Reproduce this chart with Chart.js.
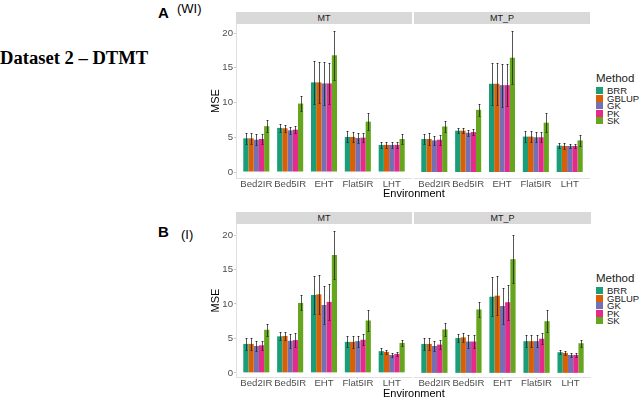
<!DOCTYPE html>
<html>
<head>
<meta charset="utf-8">
<script src="https://cdn.jsdelivr.net/npm/chart.js@4.4.0/dist/chart.umd.min.js"></script>
<style>
  body { margin: 0; background: #fff; font-family: "Liberation Sans", Arial, sans-serif; }
  #wrap { position: relative; width: 644px; height: 402px; overflow: hidden; }
  canvas, .txt, .strip, .legend { position: absolute; }
  .strip { background: #d9d9d9; color: #1a1a1a; font-size: 9px; text-align: center; line-height: 12px; height: 12px; }
  .txt { white-space: nowrap; }
  .legend { font-size: 9.5px; color: #1a1a1a; }
  .legend .ttl { font-size: 11.5px; margin-bottom: 3px; }
  .legend .row { height: 7.6px; line-height: 7.6px; }
  .legend .sw { display: inline-block; width: 7px; height: 7px; margin-right: 4px; vertical-align: top; }
</style>
</head>
<body>
<div id="wrap">
  <div class="txt" style="left:0;top:47px;font-family:'Liberation Serif',serif;font-weight:bold;font-size:18.6px;">Dataset 2 – DTMT</div>
  <div class="txt" style="left:158px;top:4px;font-weight:bold;font-size:15px;">A</div>
  <div class="txt" style="left:177px;top:1px;font-size:13px;">(WI)</div>
  <div class="txt" style="left:158px;top:223px;font-weight:bold;font-size:15px;">B</div>
  <div class="txt" style="left:181px;top:227px;font-size:13px;">(I)</div>

  <div class="strip" style="left:236px;top:12px;width:176px;">MT</div>
  <div class="strip" style="left:414px;top:12px;width:176px;">MT_P</div>
  <div class="strip" style="left:236px;top:212px;width:176px;">MT</div>
  <div class="strip" style="left:414px;top:212px;width:177px;">MT_P</div>

  <canvas id="aMT" width="207" height="170" style="left:205px;top:24px;"></canvas>
  <canvas id="aMTP" width="176" height="170" style="left:414px;top:24px;"></canvas>
  <canvas id="bMT" width="207" height="169" style="left:205px;top:224px;"></canvas>
  <canvas id="bMTP" width="177" height="169" style="left:414px;top:224px;"></canvas>

  <div class="txt" style="left:383px;top:187px;font-size:11px;">Environment</div>
  <div class="txt" style="left:383px;top:387px;font-size:11px;">Environment</div>

  <div class="legend" id="legA" style="left:596px;top:72px;"></div>
  <div class="legend" id="legB" style="left:596px;top:272px;"></div>
</div>
<script>
var environments = ["Bed2IR", "Bed5IR", "EHT", "Flat5IR", "LHT"];
var methods = ["BRR", "GBLUP", "GK", "PK", "SK"];
var methodColors = ["#1B9E77", "#D95F02", "#7570B3", "#E7298A", "#66A61E"];
var yTicks = [0, 5, 10, 15, 20];

// one row per method (BRR, GBLUP, GK, PK, SK), columns follow environments
// A (WI), facet MT
var wiMT = [
    [4.85, 6.35, 12.9, 5.05, 3.9],
    [4.85, 6.3, 12.9, 5.05, 3.9],
    [4.65, 6.0, 12.75, 4.9, 3.9],
    [4.75, 6.1, 12.75, 4.95, 3.9],
    [6.6, 9.85, 16.8, 7.25, 4.75]
];
var wiMTErr = [
    [0.8, 0.55, 3.1, 0.8, 0.4],
    [0.8, 0.5, 3.0, 0.75, 0.4],
    [0.75, 0.5, 3.1, 0.7, 0.4],
    [0.7, 0.55, 3.0, 0.7, 0.4],
    [0.9, 1.05, 3.5, 1.25, 0.75]
];
// A (WI), facet MT_P
var wiMTP = [
    [4.75, 5.95, 12.7, 5.1, 3.8],
    [4.75, 5.95, 12.7, 5.1, 3.75],
    [4.55, 5.65, 12.5, 5.0, 3.75],
    [4.65, 5.75, 12.5, 5.0, 3.75],
    [6.55, 8.95, 16.45, 7.1, 4.55]
];
var wiMTPErr = [
    [0.75, 0.4, 3.0, 0.75, 0.4],
    [0.8, 0.4, 3.0, 0.75, 0.4],
    [0.7, 0.4, 3.1, 0.7, 0.35],
    [0.7, 0.4, 3.0, 0.7, 0.35],
    [0.85, 0.9, 3.85, 1.35, 0.8]
];
// B (I), facet MT
var iMT = [
    [4.2, 5.3, 11.3, 4.5, 3.15],
    [4.2, 5.35, 11.4, 4.5, 3.05],
    [3.9, 4.65, 9.85, 4.6, 2.6],
    [4.0, 4.75, 10.3, 4.8, 2.75],
    [6.25, 10.15, 17.1, 7.6, 4.35]
];
var iMTErr = [
    [0.85, 0.6, 2.8, 0.8, 0.4],
    [0.85, 0.65, 2.85, 0.85, 0.3],
    [0.7, 1.0, 2.75, 0.8, 0.3],
    [0.65, 1.0, 2.65, 0.8, 0.35],
    [0.9, 1.1, 3.45, 1.5, 0.45]
];
// B (I), facet MT_P
var iMTP = [
    [4.2, 5.05, 11.05, 4.6, 3.0],
    [4.2, 5.15, 11.2, 4.6, 2.9],
    [3.9, 4.55, 9.7, 4.6, 2.6],
    [4.1, 4.55, 10.25, 4.95, 2.6],
    [6.3, 9.2, 16.5, 7.5, 4.3]
];
var iMTPErr = [
    [0.85, 0.6, 2.8, 0.85, 0.3],
    [0.85, 0.7, 2.85, 0.85, 0.3],
    [0.75, 1.0, 2.6, 0.85, 0.3],
    [0.7, 1.0, 2.55, 0.8, 0.35],
    [0.9, 1.1, 3.5, 1.6, 0.5]
];

Chart.defaults.font.family = "'Liberation Sans', Arial, sans-serif";

var errorBars = {
    id: 'errorBars',
    afterDatasetsDraw: function (chart) {
        var ctx = chart.ctx, y = chart.scales.y;
        ctx.save();
        ctx.strokeStyle = 'rgba(30,30,30,0.75)';
        ctx.lineWidth = 1;
        chart.data.datasets.forEach(function (ds, di) {
            chart.getDatasetMeta(di).data.forEach(function (bar, i) {
                var v = ds.data[i].y, e = ds.err[i];
                var top = Math.round(y.getPixelForValue(v + e)), bot = Math.round(y.getPixelForValue(v - e));
                var x = Math.round(bar.x) + 0.5;
                ctx.beginPath();
                ctx.moveTo(x, top); ctx.lineTo(x, bot);
                ctx.moveTo(x - 1, top + 0.5); ctx.lineTo(x + 1, top + 0.5);
                ctx.moveTo(x - 1, bot + 0.5); ctx.lineTo(x + 1, bot + 0.5);
                ctx.stroke();
            });
        });
        ctx.restore();
    }
};

function noPad(scale) {
    scale.paddingTop = 0; scale.paddingBottom = 0;
    scale.paddingLeft = 0; scale.paddingRight = 0;
}

function panel(id, values, errs, showY, yMin, yMax) {
    var datasets = methods.map(function (m, k) {
        return {
            label: m,
            data: values[k].map(function (v, i) { return { x: i + 1, y: v }; }),
            err: errs[k],
            backgroundColor: methodColors[k],
            borderWidth: 0,
            categoryPercentage: 0.77,
            barPercentage: 1.0
        };
    });
    return new Chart(document.getElementById(id).getContext('2d'), {
        type: 'bar',
        data: { datasets: datasets },
        options: {
            responsive: false,
            animation: false,
            devicePixelRatio: 1,
            layout: { padding: 0 },
            plugins: { legend: { display: false }, tooltip: { enabled: false } },
            scales: {
                x: {
                    type: 'linear',
                    offset: false,
                    min: 0.4,
                    max: 5.6,
                    afterBuildTicks: function (s) { s.ticks = environments.map(function (e, i) { return { value: i + 1 }; }); },
                    afterFit: function (s) { s.height = 16; noPad(s); },
                    grid: { offset: false, drawOnChartArea: false, drawTicks: true, tickLength: 2, color: '#c8c8c8' },
                    border: { display: true, color: '#e0e0e0' },
                    ticks: {
                        autoSkip: false, maxRotation: 0, padding: -1,
                        color: '#4d4d4d', font: { size: 9.6 },
                        callback: function (v) { return environments[Math.round(v) - 1]; }
                    }
                },
                y: {
                    display: showY,
                    min: yMin,
                    max: yMax,
                    afterBuildTicks: function (s) { s.ticks = yTicks.map(function (v) { return { value: v }; }); },
                    afterFit: function (s) { if (showY) s.width = 31; noPad(s); },
                    grid: { drawOnChartArea: false, drawTicks: true, tickLength: 2, color: '#c8c8c8' },
                    border: { display: true, color: '#e0e0e0' },
                    ticks: { padding: 1, color: '#4d4d4d', font: { size: 9.6 } },
                    title: { display: true, text: 'MSE', color: '#000', font: { size: 11 }, padding: { top: 4, bottom: 0 } }
                }
            }
        },
        plugins: [errorBars]
    });
}

panel('aMT', wiMT, wiMTErr, true, -0.86, 21.3);
panel('aMTP', wiMTP, wiMTPErr, false, -0.86, 21.3);
panel('bMT', iMT, iMTErr, true, -0.6, 21.6);
panel('bMTP', iMTP, iMTPErr, false, -0.6, 21.6);

function legend(id) {
    var html = '<div class="ttl">Method</div>';
    methods.forEach(function (m, k) {
        html += '<div class="row"><span class="sw" style="background:' + methodColors[k] + '"></span>' + m + '</div>';
    });
    document.getElementById(id).innerHTML = html;
}
legend('legA');
legend('legB');
</script>
</body>
</html>
